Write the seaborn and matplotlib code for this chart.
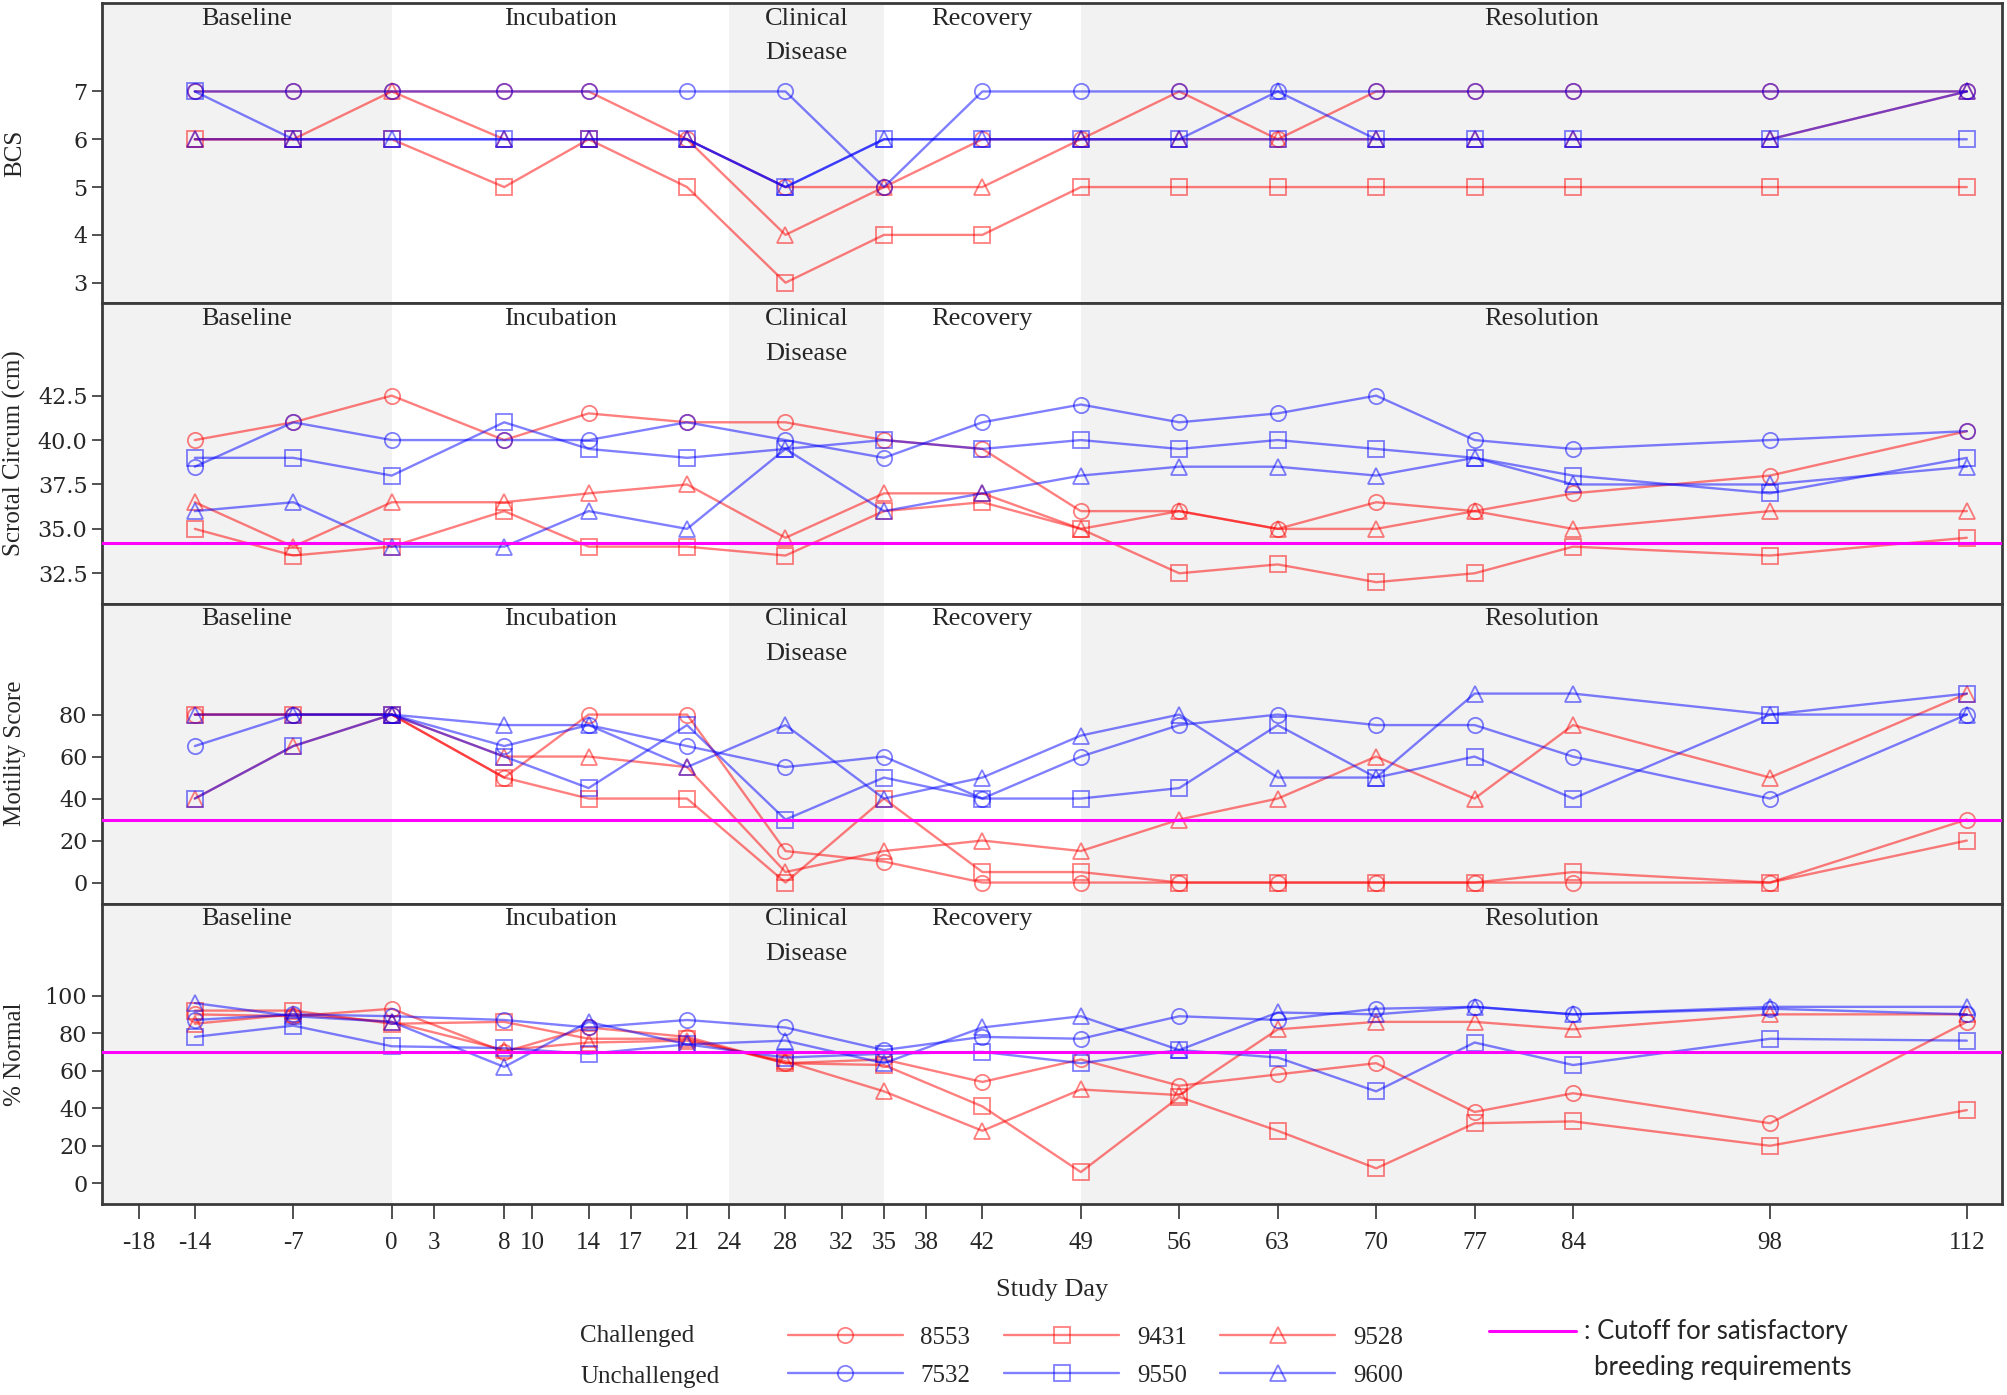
import numpy as np
import pandas as pd
import matplotlib
matplotlib.use("Agg")
import matplotlib.pyplot as plt
from matplotlib.lines import Line2D
import seaborn as sns

# --- Data ---
days = [-14, -7, 0, 8, 14, 21, 28, 35, 42, 49, 56, 63, 70, 77, 84, 98, 112]

# Body condition score
bcs_8553 = [7, 7, 7, 7, 7, 6, 5, 5, 6, 6, 7, 6, 7, 7, 7, 7, 7]
bcs_9431 = [6, 6, 6, 5, 6, 5, 3, 4, 4, 5, 5, 5, 5, 5, 5, 5, 5]
bcs_9528 = [6, 6, 7, 6, 6, 6, 4, 5, 5, 6, 6, 6, 6, 6, 6, 6, 7]
bcs_7532 = [7, 7, 7, 7, 7, 7, 7, 5, 7, 7, 7, 7, 7, 7, 7, 7, 7]
bcs_9550 = [7, 6, 6, 6, 6, 6, 5, 6, 6, 6, 6, 6, 6, 6, 6, 6, 6]
bcs_9600 = [6, 6, 6, 6, 6, 6, 5, 6, 6, 6, 6, 7, 6, 6, 6, 6, 7]

# Scrotal circumference (cm)
sc_8553 = [40, 41, 42.5, 40, 41.5, 41, 41, 40, 39.5, 36, 36, 35, 36.5, 36, 37, 38, 40.5]
sc_9431 = [35, 33.5, 34, 36, 34, 34, 33.5, 36, 36.5, 35, 32.5, 33, 32, 32.5, 34, 33.5, 34.5]
sc_9528 = [36.5, 34, 36.5, 36.5, 37, 37.5, 34.5, 37, 37, 35, 36, 35, 35, 36, 35, 36, 36]
sc_7532 = [38.5, 41, 40, 40, 40, 41, 40, 39, 41, 42, 41, 41.5, 42.5, 40, 39.5, 40, 40.5]
sc_9550 = [39, 39, 38, 41, 39.5, 39, 39.5, 40, 39.5, 40, 39.5, 40, 39.5, 39, 38, 37, 39]
sc_9600 = [36, 36.5, 34, 34, 36, 35, 39.5, 36, 37, 38, 38.5, 38.5, 38, 39, 37.5, 37.5, 38.5]

# Motility score
mot_8553 = [80, 80, 80, 50, 80, 80, 15, 10, 0, 0, 0, 0, 0, 0, 0, 0, 30]
mot_9431 = [80, 80, 80, 50, 40, 40, 0, 40, 5, 5, 0, 0, 0, 0, 5, 0, 20]
mot_9528 = [40, 65, 80, 60, 60, 55, 5, 15, 20, 15, 30, 40, 60, 40, 75, 50, 90]
mot_7532 = [65, 80, 80, 65, 75, 65, 55, 60, 40, 60, 75, 80, 75, 75, 60, 40, 80]
mot_9550 = [40, 65, 80, 60, 45, 75, 30, 50, 40, 40, 45, 75, 50, 60, 40, 80, 90]
mot_9600 = [80, 80, 80, 75, 75, 55, 75, 40, 50, 70, 80, 50, 50, 90, 90, 80, 80]

# % normal morphology
nrm_8553 = [90, 89, 93, 70, 83, 78, 64, 66, 54, 66, 52, 58, 64, 38, 48, 32, 86]
nrm_9431 = [92, 92, 85, 86, 77, 77, 64, 63, 41, 6, 46, 28, 8, 32, 33, 20, 39]
nrm_9528 = [85, 90, 86, 71, 75, 76, 65, 49, 28, 50, 47, 82, 86, 86, 82, 90, 90]
nrm_7532 = [87, 90, 89, 87, 83, 87, 83, 71, 78, 77, 89, 87, 93, 94, 90, 93, 90]
nrm_9550 = [78, 84, 73, 72, 69, 74, 67, 69, 70, 64, 71, 67, 49, 75, 63, 77, 76]
nrm_9600 = [96, 89, 86, 62, 86, 74, 76, 64, 83, 89, 71, 91, 90, 94, 90, 94, 94]

bulls = ["8553", "9431", "9528", "7532", "9550", "9600"]
challenged = ["8553", "9431", "9528"]

panel_names = ["BCS", "Scrotal Circum (cm)", "Motility Score", "% Normal"]
panel_yticks = [[3, 4, 5, 6, 7],
                [32.5, 35.0, 37.5, 40.0, 42.5],
                [0, 20, 40, 60, 80],
                [0, 20, 40, 60, 80, 100]]
cutoffs = [None, 34.2, 30, 70]

x_ticks = [-18, -14, -7, 0, 3, 8, 10, 14, 17, 21, 24, 28, 32, 35, 38, 42,
           49, 56, 63, 70, 77, 84, 98, 112]

phase_names = ["Baseline", "Incubation", "Clinical\nDisease", "Recovery", "Resolution"]
phase_edges = [-20.6, 0, 24, 35, 49, 114.5]
phase_shaded = [True, False, True, False, True]

# long table of all values
tables = []
for panel, series in zip(panel_names, [
        [bcs_8553, bcs_9431, bcs_9528, bcs_7532, bcs_9550, bcs_9600],
        [sc_8553, sc_9431, sc_9528, sc_7532, sc_9550, sc_9600],
        [mot_8553, mot_9431, mot_9528, mot_7532, mot_9550, mot_9600],
        [nrm_8553, nrm_9431, nrm_9528, nrm_7532, nrm_9550, nrm_9600]]):
    for bull, vals in zip(bulls, series):
        tables.append(pd.DataFrame({"day": days, "value": vals,
                                    "bull": bull, "panel": panel}))
df = pd.concat(tables, ignore_index=True)

# --- Style ---
sns.set_style("ticks")
plt.rcParams['font.family'] = ['Liberation Serif', 'DejaVu Serif']
plt.rcParams['axes.unicode_minus'] = False

bull_color = {b: ('#FF0000' if b in challenged else '#0000FF') for b in bulls}
bull_marker = {"8553": "o", "9431": "s", "9528": "^",
               "7532": "o", "9550": "s", "9600": "^"}
line_kw = dict(linewidth=1.7, markersize=11, markerfacecolor='none',
               markeredgewidth=1.3, alpha=0.5)

fig = plt.figure(figsize=(20.08, 13.95), dpi=100)
W, H = 2008, 1395
left, right = 102, 2002
top, bottom = 3, 1204
ph = (bottom - top) / 4
ylims = [(2.57, 8.85), (30.8, 47.7), (-10.1, 132.9), (-11, 148.9)]

axes = []
for i, panel in enumerate(panel_names):
    y0 = 1 - (top + ph * (i + 1)) / H
    ax = fig.add_axes([left / W, y0, (right - left) / W, ph / H],
                      sharex=axes[0] if axes else None)
    axes.append(ax)

    for (a, b), shaded in zip(zip(phase_edges[:-1], phase_edges[1:]), phase_shaded):
        if shaded:
            ax.axvspan(a, b, color='#F2F2F2', lw=0, zorder=0)

    sub = df[df["panel"] == panel]
    for bull in bulls:
        d = sub[sub["bull"] == bull]
        sns.lineplot(data=d, x="day", y="value", ax=ax, color=bull_color[bull],
                     marker=bull_marker[bull], markeredgecolor=bull_color[bull],
                     legend=False, **line_kw)

    if cutoffs[i] is not None:
        ax.axhline(cutoffs[i], color='#FF00FF', lw=2.2, zorder=5)

    for name, a, b in zip(phase_names, phase_edges[:-1], phase_edges[1:]):
        ax.text((a + b) / 2, 0.985, name, transform=ax.get_xaxis_transform(),
                ha='center', va='top', fontsize=19, linespacing=1.75,
                family=['Liberation Serif'])

    ax.set_xlim(phase_edges[0], phase_edges[-1])
    ax.set_ylim(*ylims[i])
    ax.set_yticks(panel_yticks[i])
    if i == 1:
        ax.set_yticklabels([f"{v:.1f}" for v in panel_yticks[i]])
    ax.tick_params(axis='y', labelsize=16, length=7, width=1.2, color='#333333',
                   labelfontfamily='DejaVu Serif')
    ax.set_ylabel(panel, fontsize=18)
    ax.yaxis.set_label_coords(-0.04, 0.5)
    ax.set_xlabel("")
    for s in ax.spines.values():
        s.set_color('#3a3a3a')
        s.set_linewidth(2)
    if i < 3:
        ax.tick_params(axis='x', bottom=False, labelbottom=False)

ax4 = axes[-1]
ax4.set_xticks(x_ticks)
ax4.set_xticklabels([str(t) for t in x_ticks])
ax4.tick_params(axis='x', bottom=True, labelbottom=True, labelsize=18,
                length=11, width=1.2, pad=9, color='#333333',
                labelfontfamily='Liberation Serif')
ax4.set_xlabel("Study Day", fontsize=19, labelpad=18)

# --- Legend ---
handles = []
labels = []
for b in ["8553", "7532", "9431", "9550", "9528", "9600"]:
    handles.append(Line2D([], [], color=bull_color[b], marker=bull_marker[b],
                          markeredgecolor=bull_color[b], **line_kw))
    labels.append(b)
fig.legend(handles, labels, ncol=3, loc='center left',
           bbox_to_anchor=(788 / W, 1 - 1356.5 / H), frameon=False,
           prop={'family': 'Liberation Serif', 'size': 18}, handlelength=4.6,
           handletextpad=0.7, columnspacing=1.35, labelspacing=0.6,
           borderpad=0, borderaxespad=0)
fig.text(580 / W, 1 - 1336 / H, "Challenged", fontsize=18, va='center')
fig.text(580 / W, 1 - 1377 / H, "Unchallenged", fontsize=18, va='center')

cut_handle = Line2D([], [], color='#FF00FF', lw=2.2)
fig.legend([cut_handle], [": Cutoff for satisfactory"], loc='center left',
           bbox_to_anchor=(1489 / W, 1 - 1332 / H), frameon=False,
           prop={'family': 'Lato', 'size': 18.5}, handlelength=3.4,
           handletextpad=0.3, borderpad=0, borderaxespad=0)
fig.text(1594 / W, 1 - 1368 / H, "breeding requirements", fontsize=18.5,
         va='center', family=['Lato'])

fig.savefig("out.png", dpi=100)
